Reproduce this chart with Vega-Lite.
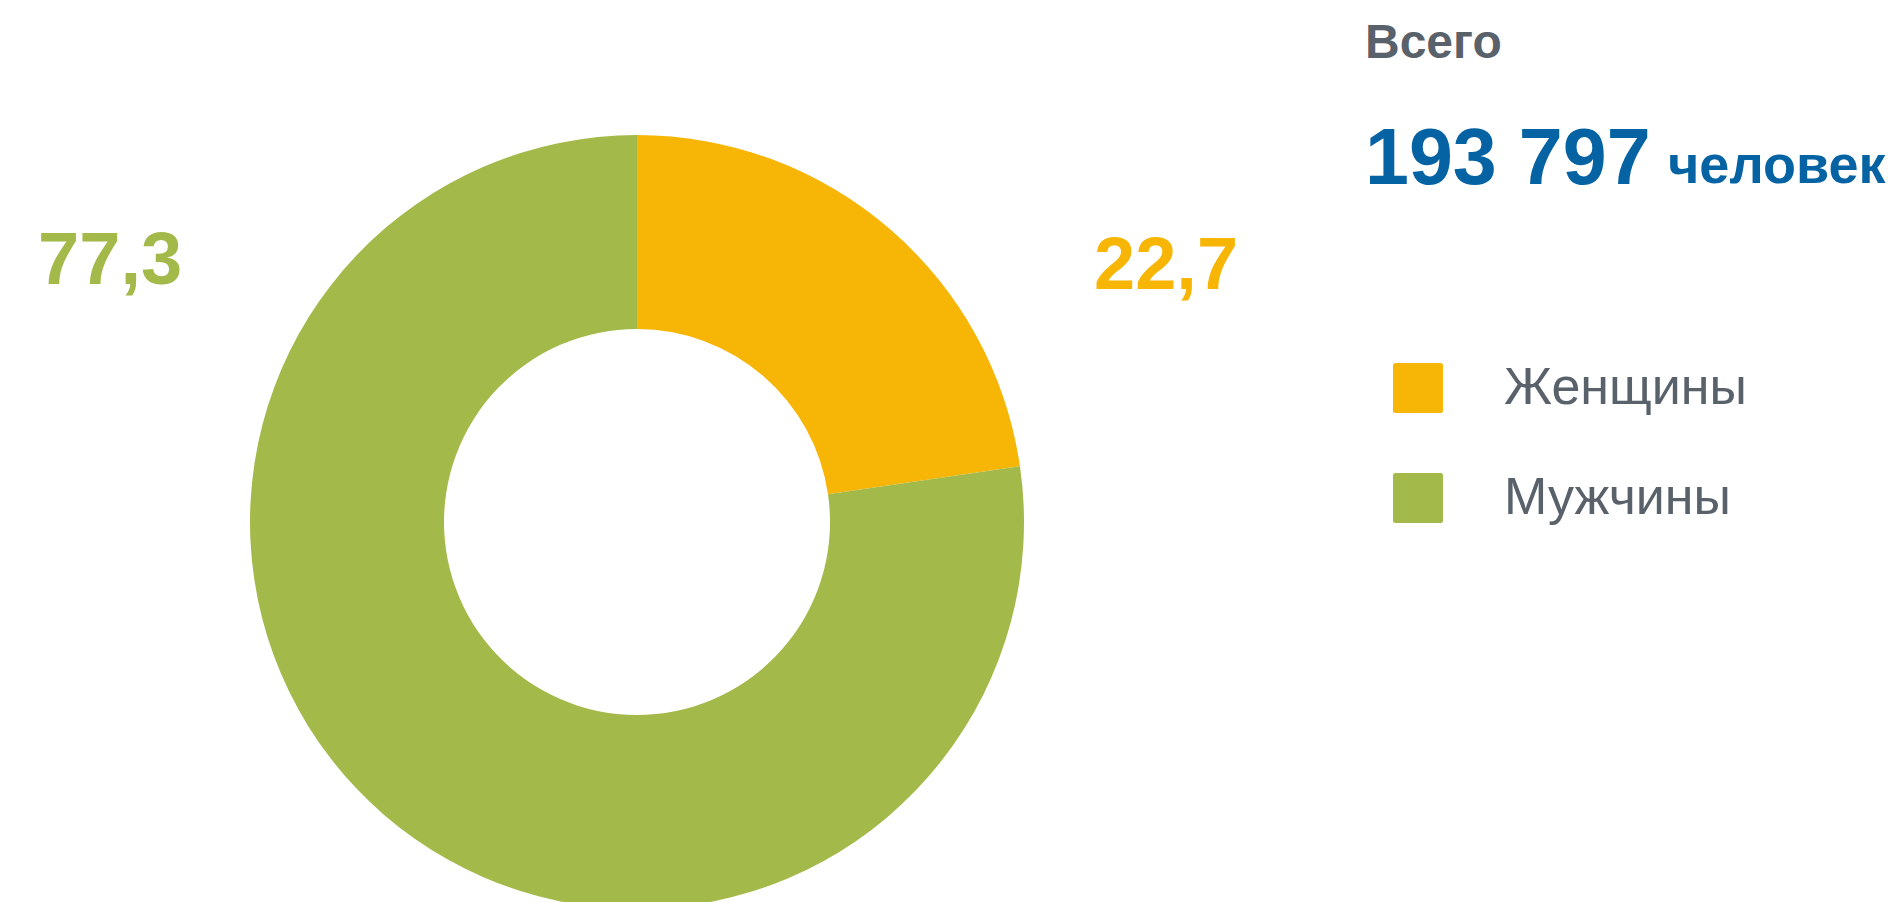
{
  "$schema": "https://vega.github.io/schema/vega-lite/v6.json",
  "width": 1274,
  "height": 760,
  "autosize": {"type": "none"},
  "padding": {"left": 0, "top": 142, "right": 614, "bottom": 0},
  "background": "white",
  "title": {
    "text": "Всего",
    "subtitle": "193 797",
    "anchor": "start",
    "frame": "group",
    "orient": "top",
    "dx": 1365,
    "offset": -65,
    "font": "Liberation Sans",
    "fontSize": 48,
    "fontWeight": "bold",
    "color": "#59616B",
    "subtitleFont": "Liberation Sans",
    "subtitleFontSize": 79,
    "subtitleFontWeight": "bold",
    "subtitleColor": "#0563A3",
    "subtitlePadding": 54
  },
  "data": {
    "values": [
      {"gender": "Женщины", "value": 22.7, "label": "22,7"},
      {"gender": "Мужчины", "value": 77.3, "label": "77,3"}
    ]
  },
  "layer": [
    {
      "mark": {"type": "arc", "innerRadius": 193, "outerRadius": 387},
      "encoding": {
        "theta": {"field": "value", "type": "quantitative", "stack": true},
        "color": {
          "field": "gender",
          "type": "nominal",
          "scale": {"domain": ["Женщины", "Мужчины"], "range": ["#F7B606", "#A3BA4A"]},
          "legend": {
            "title": null,
            "orient": "none",
            "legendX": 1392,
            "legendY": 220,
            "padding": 0,
            "direction": "vertical",
            "symbolType": "M -0.9,-1 L 0.9,-1 Q 1,-1 1,-0.9 L 1,0.9 Q 1,1 0.9,1 L -0.9,1 Q -1,1 -1,0.9 L -1,-0.9 Q -1,-1 -0.9,-1 Z",
            "symbolSize": 2500,
            "symbolStrokeWidth": 0,
            "symbolOpacity": 1,
            "labelFont": "Liberation Sans",
            "labelFontSize": 52,
            "labelColor": "#59616B",
            "labelOffset": 60,
            "labelLimit": 400,
            "rowPadding": 58
          }
        }
      }
    },
    {
      "mark": {"type": "text", "radius": 587.5, "fontSize": 74, "fontWeight": "bold", "font": "Liberation Sans"},
      "encoding": {
        "theta": {
          "field": "value",
          "type": "quantitative",
          "stack": true,
          "scale": {"domain": [0, 100], "range": [0.2018, 8.3008]}
        },
        "color": {"field": "gender", "type": "nominal"},
        "text": {"field": "label"}
      }
    },
    {
      "data": {"values": [{"unit": "человек"}]},
      "mark": {"type": "text", "x": 1668, "y": 41, "align": "left", "baseline": "alphabetic", "fontSize": 54, "fontWeight": "bold", "font": "Liberation Sans", "color": "#0563A3"},
      "encoding": {"text": {"field": "unit"}}
    }
  ],
  "resolve": {"scale": {"theta": "independent"}},
  "config": {"view": {"stroke": null}}
}
